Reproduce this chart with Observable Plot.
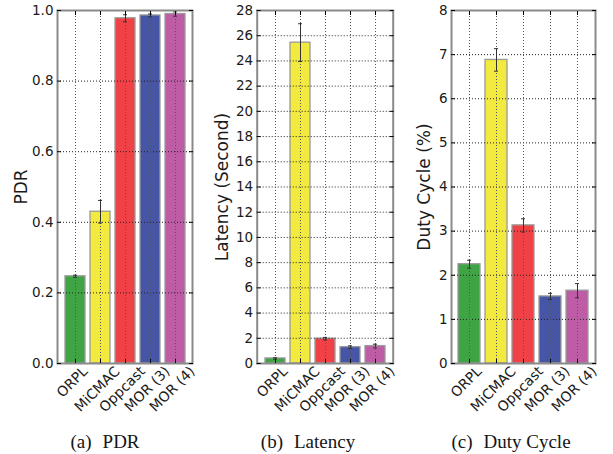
<!DOCTYPE html>
<html>
<head>
<meta charset="utf-8">
<script src="https://cdn.jsdelivr.net/npm/d3@7"></script>
<script src="https://cdn.jsdelivr.net/npm/@observablehq/plot@0.6"></script>
<style>
  html, body { margin: 0; padding: 0; background: #fff; }
  #wrap { position: relative; width: 613px; height: 454px; overflow: hidden; }
  .panel { position: absolute; top: 0; }
  .panel svg { overflow: visible; }
  .cap { position: absolute; top: 431px; width: 200px; text-align: center;
         font-family: "Liberation Serif", "Times New Roman", serif; font-size: 19px; color: #151515; }
  .cap span { margin-left: 11px; }
</style>
</head>
<body>
<div id="wrap">
  <div class="panel" id="pa" style="left:0px"></div>
  <div class="panel" id="pb" style="left:200px"></div>
  <div class="panel" id="pc" style="left:400px"></div>
  <div class="cap" style="left:5px">(a)<span>PDR</span></div>
  <div class="cap" style="left:208px">(b)<span>Latency</span></div>
  <div class="cap" style="left:411px">(c)<span>Duty Cycle</span></div>
</div>
<script>
const categories = ["ORPL", "MiCMAC", "Oppcast", "MOR (3)", "MOR (4)"];
const colors = ["#3fa444", "#f2ea3e", "#f04246", "#4655a5", "#be5ca6"];

const pdr = [0.247, 0.430, 0.978, 0.986, 0.990];
const pdrErr = [0.003, 0.032, 0.010, 0.004, 0.006];
const pdrTicks = [0, 0.2, 0.4, 0.6, 0.8, 1.0];

const latency = [0.40, 25.45, 1.97, 1.30, 1.38];
const latencyErr = [0.05, 1.50, 0.10, 0.10, 0.15];
const latencyTicks = [0, 2, 4, 6, 8, 10, 12, 14, 16, 18, 20, 22, 24, 26, 28];

const duty = [2.25, 6.88, 3.13, 1.52, 1.65];
const dutyErr = [0.09, 0.255, 0.15, 0.07, 0.16];
const dutyTicks = [0, 1, 2, 3, 4, 5, 6, 7, 8];

function panel(vals, errs, ticks, label, o) {
  const data = categories.map((c, i) => ({c, v: vals[i], e: errs[i], col: colors[i]}));
  const dom = [ticks[0], ticks[ticks.length - 1]];
  return Plot.plot({
    width: o.width, height: 425,
    marginTop: 10, marginBottom: 62, marginLeft: o.ml, marginRight: o.mr,
    style: {fontFamily: "DejaVu Sans", fontSize: "13px", color: "#1a1a1a", background: "transparent"},
    x: {domain: categories, paddingInner: 0.2, paddingOuter: 0.25},
    y: {domain: dom},
    marks: [
      Plot.barY(data, {x: "c", y: "v", fill: "col", stroke: "#9a9a9a", strokeWidth: 1.3}),
      Plot.ruleY(ticks, {stroke: "#222", strokeWidth: 1, strokeDasharray: "1,2"}),
      Plot.ruleX(categories, {stroke: "#555", strokeWidth: 1, strokeDasharray: "1,2"}),
      Plot.ruleX(data, {x: "c", y1: d => d.v - d.e, y2: d => d.v + d.e, stroke: "#333", strokeWidth: 1}),
      Plot.tickY(data, {x: "c", y: d => d.v - d.e, stroke: "#333", inset: o.cap}),
      Plot.tickY(data, {x: "c", y: d => d.v + d.e, stroke: "#333", inset: o.cap}),
      Plot.frame({stroke: "#8a8a8a", strokeWidth: 2}),
      Plot.axisY({anchor: "left", ticks, tickSize: 0, tickPadding: 4, tickFormat: o.fmt,
                  fontSize: 13.5, label: null}),
      Plot.axisY({anchor: "left", ticks: [], tickSize: 0, text: null, fontSize: 17,
                  label, labelAnchor: "center", labelArrow: "none", labelOffset: o.lo}),
      Plot.axisY({anchor: "left", ticks, tickSize: -4, text: null, label: null, stroke: "#000"}),
      Plot.axisY({anchor: "right", ticks, tickSize: -4, text: null, label: null, stroke: "#000"}),
      Plot.axisX({anchor: "bottom", tickSize: -4, text: null, label: null, stroke: "#000"}),
      Plot.axisX({anchor: "top", tickSize: -4, text: null, label: null, stroke: "#000"}),
      Plot.text(categories, {x: d => d, frameAnchor: "bottom", rotate: -45, textAnchor: "middle",
                             fontSize: 14, fill: "#1a1a1a"})
    ]
  });
}

function mount(id, chart) {
  document.getElementById(id).appendChild(chart);
  chart.querySelectorAll('g[aria-label="text"] text').forEach(t => {
    const L = t.getComputedTextLength();
    const h = 10.5;
    const half = (L * Math.SQRT1_2 + h * Math.SQRT1_2) / 2;
    const tr = t.getAttribute("transform") || "";
    t.setAttribute("transform", `translate(0,${(half + 5).toFixed(2)}) ` + tr);
  });
}

mount("pa", panel(pdr, pdrErr, pdrTicks, "PDR", {width: 200, ml: 57, mr: 8, lo: 43, cap: 8, fmt: d3.format(".1f")}));
mount("pb", panel(latency, latencyErr, latencyTicks, "Latency (Second)", {width: 200, ml: 56.7, mr: 7.3, lo: 41, cap: 8, fmt: d3.format("d")}));
mount("pc", panel(duty, dutyErr, dutyTicks, "Duty Cycle (%)", {width: 213, ml: 51, mr: 18, lo: 34, cap: 9, fmt: d3.format("d")}));
</script>
</body>
</html>
